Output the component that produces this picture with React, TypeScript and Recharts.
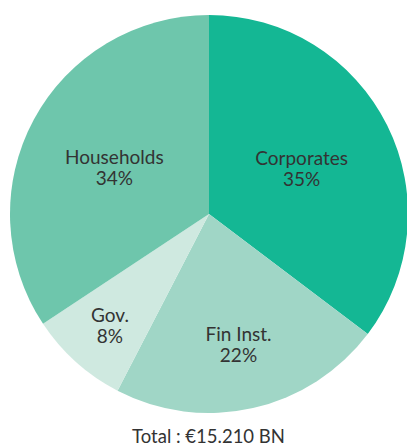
import { PieChart, Pie, Cell } from "recharts";

const sectors = ["Corporates", "Fin Inst.", "Gov.", "Households"];
const shares = [35.3, 22.3, 8.1, 34.3];
const shareLabels = ["35%", "22%", "8%", "34%"];
const totalLabel = "Total : €15.210 BN";

const colors = ["#14b794", "#a0d6c6", "#cfe9e0", "#6ec6ac"];
// how far out each label sits, as a share of the outer radius
const labelDepth = [0.52, 0.67, 0.745, 0.54];
const labelDy = [0, 0, 1, 4];

const RADIAN = Math.PI / 180;

const data = sectors.map((name, i) => ({
    name,
    value: shares[i],
    label: shareLabels[i],
}));

function SliceLabel(props: any) {
    const { cx, cy, midAngle, outerRadius, index } = props;
    const r = outerRadius * labelDepth[index];
    const x = cx + r * Math.cos(-midAngle * RADIAN);
    const y = cy + r * Math.sin(-midAngle * RADIAN) + labelDy[index];
    return (
        <text
            x={x}
            y={y}
            textAnchor="middle"
            fill="#333333"
            fontFamily="Lato, sans-serif"
            fontSize={19}
        >
            <tspan x={x} y={y - 3}>{data[index].name}</tspan>
            <tspan x={x} y={y + 18}>{data[index].label}</tspan>
        </text>
    );
}

export default function App() {
    return (
        <div style={{ position: "absolute", left: 0, top: 0, width: 407, height: 446, background: "#fff" }}>
            <PieChart width={407} height={446} margin={{ top: 0, right: 0, bottom: 0, left: 0 }}>
                <Pie
                    data={data}
                    dataKey="value"
                    nameKey="name"
                    cx={209}
                    cy={214}
                    outerRadius={199}
                    startAngle={90}
                    endAngle={-270}
                    stroke="none"
                    label={SliceLabel}
                    labelLine={false}
                    isAnimationActive={false}
                >
                    {data.map((d, i) => (
                        <Cell key={d.name} fill={colors[i]} />
                    ))}
                </Pie>
            </PieChart>
            <div
                style={{
                    position: "absolute",
                    left: 0,
                    width: 417,
                    top: 427,
                    textAlign: "center",
                    fontFamily: "Lato, sans-serif",
                    fontSize: 18.5,
                    color: "#333333",
                    lineHeight: "18px",
                }}
            >
                {totalLabel}
            </div>
        </div>
    );
}
